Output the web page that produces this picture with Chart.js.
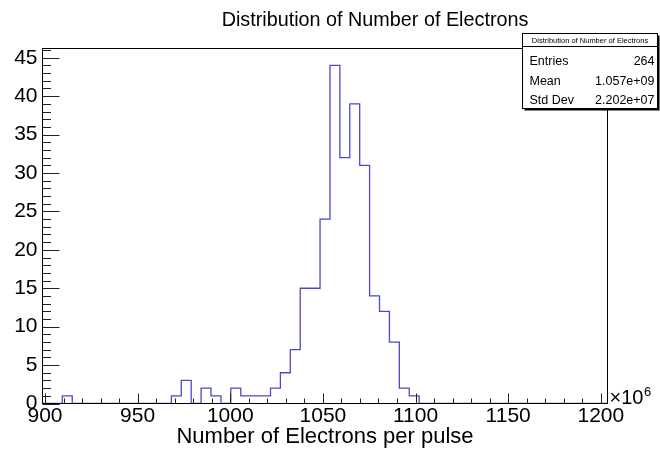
<!DOCTYPE html>
<html>
<head>
<meta charset="utf-8">
<script src="https://cdn.jsdelivr.net/npm/chart.js@4.4.0/dist/chart.umd.min.js"></script>
<style>
  html, body { margin: 0; padding: 0; background: #fff; }
  #wrap { width: 660px; height: 451px; }
</style>
</head>
<body>
<div id="wrap"><canvas id="histChart" width="660" height="451"></canvas></div>
<script>
// histogram bins (x in units of 1e6 electrons)
const binStart = 898.65;
const binWidth = 5.35;
const binCounts = [
    0, 0, 1, 0, 0, 0, 0, 0, 0, 0, 0, 0, 0, 1, 3, 0, 2, 1, 0, 2,
    1, 1, 1, 2, 4, 7, 15, 15, 24, 44, 32, 39, 31, 14, 12, 8, 2, 1, 0, 0,
    0, 0, 0, 0, 0, 0, 0, 0, 0, 0, 0, 0, 0, 0, 0, 0, 0
];

const xTickValues = [900, 950, 1000, 1050, 1100, 1150, 1200];
const yTickValues = [0, 5, 10, 15, 20, 25, 30, 35, 40, 45];
const yMax = 46.2;

const statsTitle = 'Distribution of Number of Electrons';
const statsLabels = ['Entries', 'Mean', 'Std Dev'];
const statsValues = ['264', '1.057e+09', '2.202e+07'];

const FONT = "'Liberation Sans', Arial, sans-serif";
const xMax = binStart + binCounts.length * binWidth;

// left edge of each bin, plus closing point at the right end
const histPoints = binCounts.map((c, i) => ({ x: binStart + i * binWidth, y: c }));
histPoints.push({ x: xMax, y: binCounts[binCounts.length - 1] });

// ROOT style frame: inward ticks, box, stats panel, title
const rootDecor = {
    id: 'rootDecor',
    afterDatasetsDraw(chart) {
        const { ctx, chartArea: a, scales: { x, y } } = chart;
        ctx.save();
        ctx.strokeStyle = '#222';
        ctx.lineWidth = 1;
        ctx.beginPath();
        for (let v = 900; v <= 1200; v += 10) {
            const px = Math.round(x.getPixelForValue(v)) + 0.5;
            const len = v % 50 === 0 ? 10 : 5;
            ctx.moveTo(px, a.bottom);
            ctx.lineTo(px, a.bottom - len);
        }
        for (let v = 0; v <= 46; v++) {
            const py = Math.round(y.getPixelForValue(v)) + 0.5;
            const len = v % 5 === 0 ? 17 : 8.5;
            ctx.moveTo(a.left, py);
            ctx.lineTo(a.left + len, py);
        }
        ctx.stroke();
        ctx.strokeStyle = '#000';
        ctx.strokeRect(a.left, a.top, a.right - a.left, a.bottom - a.top);
        ctx.restore();
    },
    afterDraw(chart) {
        const { ctx, chartArea: a } = chart;
        ctx.save();
        ctx.fillStyle = '#000';

        // title
        ctx.font = '19.8px ' + FONT;
        ctx.textAlign = 'center';
        ctx.textBaseline = 'alphabetic';
        ctx.fillText('Distribution of Number of Electrons', 375, 26);

        // x10^6 exponent
        ctx.textAlign = 'left';
        ctx.font = '20px ' + FONT;
        ctx.fillText('\u00d710', a.right + 2, 404);
        const w = ctx.measureText('\u00d710').width;
        ctx.font = '13px ' + FONT;
        ctx.fillText('6', a.right + 2 + w + 0.5, 396);

        // stats box with shadow
        const bx = 522.5, by = 33.5, bw = 135, bh = 75;
        ctx.fillStyle = '#000';
        ctx.fillRect(bx + 2, by + 2, bw, bh);
        ctx.fillStyle = '#fff';
        ctx.fillRect(bx, by, bw, bh);
        ctx.strokeStyle = '#000';
        ctx.lineWidth = 1;
        ctx.strokeRect(bx, by, bw, bh);
        ctx.beginPath();
        ctx.moveTo(bx, 46.5);
        ctx.lineTo(bx + bw, 46.5);
        ctx.stroke();

        ctx.fillStyle = '#000';
        ctx.font = '7.5px ' + FONT;
        ctx.textAlign = 'center';
        ctx.fillText(statsTitle, bx + bw / 2, 43);

        ctx.font = '12.5px ' + FONT;
        const rowBase = [65, 85, 104];
        statsLabels.forEach((lab, i) => {
            ctx.textAlign = 'left';
            ctx.fillText(lab, bx + 7, rowBase[i]);
            ctx.textAlign = 'right';
            ctx.fillText(statsValues[i], bx + bw - 3, rowBase[i]);
        });
        ctx.restore();
    }
};

new Chart(document.getElementById('histChart'), {
    type: 'line',
    data: {
        datasets: [{
            data: histPoints,
            stepped: 'before',
            borderColor: '#4a4ac4',
            borderWidth: 1.3,
            pointRadius: 0,
            fill: false,
            tension: 0
        }]
    },
    options: {
        responsive: false,
        animation: false,
        layout: { padding: { left: 0, right: 52.5, top: 48.5, bottom: 0 } },
        plugins: { legend: { display: false }, tooltip: { enabled: false } },
        scales: {
            x: {
                type: 'linear',
                min: binStart,
                max: xMax,
                afterBuildTicks: s => { s.ticks = xTickValues.map(v => ({ value: v })); },
                afterFit: s => { s.height = 47.5; },
                grid: { display: false, drawTicks: false },
                border: { display: false },
                ticks: {
                    autoSkip: false,
                    maxRotation: 0,
                    padding: 0,
                    color: '#000',
                    font: { family: FONT, size: 21 },
                    callback: v => String(v)
                },
                title: {
                    display: true,
                    text: 'Number of Electrons per pulse',
                    color: '#000',
                    font: { family: FONT, size: 22 },
                    padding: { top: 0, bottom: 1 }
                }
            },
            y: {
                type: 'linear',
                min: 0,
                max: yMax,
                afterBuildTicks: s => { s.ticks = yTickValues.map(v => ({ value: v })); },
                afterFit: s => { s.width = 42.5; },
                grid: { display: false, drawTicks: false },
                border: { display: false },
                ticks: {
                    padding: 5,
                    color: '#000',
                    font: { family: FONT, size: 21 },
                    callback: v => String(v)
                }
            }
        }
    },
    plugins: [rootDecor]
});
</script>
</body>
</html>
